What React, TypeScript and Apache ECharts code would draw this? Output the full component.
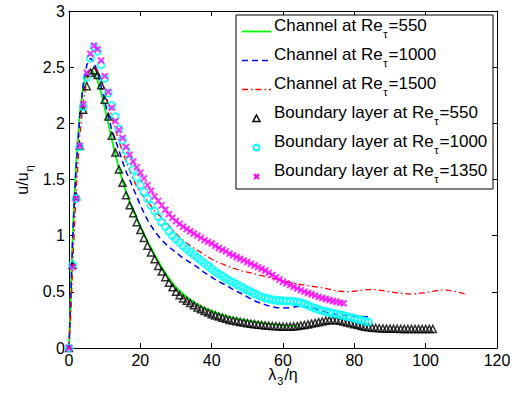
import React, { useEffect, useRef } from "react";
import * as echarts from "echarts";

// ---------- data ----------
// shared lambda_3/eta sampling grid of the boundary-layer profiles
const lambdaGrid = [
  0, 1, 2, 3, 4, 5, 6, 7, 8, 9, 10, 11, 12, 13, 14, 15, 16, 17, 18, 19, 20,
  21, 22, 23, 24, 25, 26, 27, 28, 29, 30, 31, 32, 33, 34, 35, 36, 37, 38, 39, 40,
  41, 42, 43, 44, 45, 46, 47, 48, 49, 50, 51, 52, 53, 54, 55, 56, 57, 58, 59, 60,
  61, 62, 63, 64, 65, 66, 67, 68, 69, 70, 71, 72, 73, 74, 75, 76, 77, 78, 79, 80,
  81, 82, 83, 84, 85, 86, 87, 88, 89, 90, 91, 92, 93, 94, 95, 96, 97, 98, 99, 100,
  101, 102,
];

// Boundary layer at Re_tau = 550 (black triangles)
const bl550 = [
  0, 0.74, 1.35, 1.8, 2.12, 2.33, 2.45, 2.47, 2.43, 2.34, 2.21,
  2.06, 1.89, 1.74, 1.59, 1.47, 1.36, 1.27, 1.2, 1.12, 1.05,
  0.98, 0.91, 0.85, 0.79, 0.73, 0.68, 0.63, 0.58, 0.54, 0.5,
  0.47, 0.44, 0.42, 0.4, 0.38, 0.36, 0.345, 0.33, 0.315, 0.3,
  0.29, 0.28, 0.27, 0.26, 0.25, 0.244, 0.238, 0.232, 0.226, 0.22,
  0.216, 0.212, 0.208, 0.204, 0.2, 0.198, 0.196, 0.194, 0.192, 0.19,
  0.19, 0.19, 0.192, 0.195, 0.2, 0.205, 0.21, 0.217, 0.223, 0.23,
  0.237, 0.243, 0.248, 0.25, 0.248, 0.243, 0.236, 0.228, 0.22, 0.212,
  0.204, 0.196, 0.19, 0.185, 0.181, 0.178, 0.176, 0.174, 0.173, 0.172,
  0.171, 0.171, 0.17, 0.17, 0.17, 0.17, 0.17, 0.17, 0.17, 0.17,
  0.17, 0.17,
];

// Boundary layer at Re_tau = 1000 (cyan circles)
const bl1000 = [
  0, 0.74, 1.33, 1.79, 2.15, 2.41, 2.58, 2.68, 2.64, 2.52, 2.4,
  2.27, 2.16, 2.06, 1.95, 1.85, 1.76, 1.67, 1.59, 1.52, 1.45,
  1.39, 1.33, 1.27, 1.22, 1.17, 1.12, 1.08, 1.04, 1.0, 0.97,
  0.94, 0.91, 0.88, 0.855, 0.83, 0.805, 0.78, 0.755, 0.73, 0.705,
  0.68, 0.66, 0.64, 0.62, 0.6, 0.585, 0.567, 0.55, 0.533, 0.515,
  0.5, 0.485, 0.47, 0.456, 0.445, 0.437, 0.43, 0.425, 0.422, 0.42,
  0.419, 0.418, 0.415, 0.41, 0.403, 0.393, 0.38, 0.367, 0.354, 0.342,
  0.332, 0.324, 0.317, 0.31, 0.303, 0.296, 0.289, 0.28, 0.272, 0.264,
  0.256, 0.248, 0.24, 0.232,
];

// Boundary layer at Re_tau = 1350 (magenta crosses)
const bl1350 = [
  0, 0.72, 1.33, 1.8, 2.17, 2.45, 2.62, 2.69, 2.66, 2.56, 2.42,
  2.28, 2.14, 2.02, 1.94, 1.87, 1.79, 1.72, 1.66, 1.61, 1.56,
  1.51, 1.45, 1.4, 1.35, 1.31, 1.27, 1.23, 1.19, 1.16, 1.13,
  1.105, 1.08, 1.06, 1.04, 1.02, 1.0, 0.98, 0.96, 0.945, 0.93,
  0.91, 0.89, 0.875, 0.86, 0.84, 0.825, 0.81, 0.795, 0.78, 0.765,
  0.75, 0.735, 0.72, 0.705, 0.69, 0.67, 0.65, 0.63, 0.61, 0.59,
  0.575, 0.56, 0.545, 0.53, 0.515, 0.502, 0.49, 0.478, 0.466, 0.455,
  0.445, 0.436, 0.427, 0.419, 0.411, 0.404, 0.398,
];

// Channel at Re_tau = 550 (green solid)
const ch550X = [
  0, 0.5, 1, 1.5, 2, 3, 4, 5, 6, 7, 8, 9, 10, 11, 12, 13, 14, 15, 16, 17, 18,
  19, 20, 22, 24, 26, 28, 30, 32, 34, 36, 38, 40, 42, 44, 46, 48, 50, 52, 54,
  56, 58, 60, 62, 64,
];
const ch550Y = [
  0, 0.5, 0.95, 1.35, 1.65, 2.08, 2.33, 2.45, 2.48, 2.45, 2.38, 2.27, 2.14,
  2.0, 1.86, 1.72, 1.6, 1.49, 1.39, 1.3, 1.22, 1.15, 1.08, 0.95, 0.83, 0.72,
  0.62, 0.54, 0.48, 0.43, 0.39, 0.355, 0.33, 0.305, 0.285, 0.27, 0.255, 0.245,
  0.235, 0.225, 0.215, 0.208, 0.2, 0.196, 0.194,
];

// Channel at Re_tau = 1000 (blue dashed)
const ch1000X = [
  0, 0.5, 1, 1.5, 2, 3, 4, 5, 6, 7, 8, 9, 10, 11, 12, 13, 14, 15, 16, 17, 18,
  19, 20, 22, 24, 26, 28, 30, 32, 34, 36, 38, 40, 42, 44, 46, 48, 50, 52, 54,
  56, 58, 60, 62, 64, 66, 68, 70, 72, 74, 76, 78, 80, 82, 84,
];
const ch1000Y = [
  0, 0.45, 0.95, 1.3, 1.6, 2.05, 2.35, 2.52, 2.58, 2.55, 2.45, 2.33, 2.2,
  2.07, 1.94, 1.85, 1.76, 1.66, 1.57, 1.5, 1.42, 1.35, 1.27, 1.14, 1.04, 0.96,
  0.9, 0.85, 0.8, 0.76, 0.72, 0.67, 0.63, 0.59, 0.56, 0.52, 0.49, 0.455, 0.42,
  0.395, 0.375, 0.36, 0.355, 0.36, 0.37, 0.37, 0.36, 0.34, 0.32, 0.305, 0.295,
  0.288, 0.283, 0.28, 0.278,
];

// Channel at Re_tau = 1500 (red dash-dot)
const ch1500X = [
  0, 0.5, 1, 1.5, 2, 3, 4, 5, 6, 7, 8, 9, 10, 11, 12, 13, 14, 15, 16, 17, 18,
  19, 20, 22, 24, 26, 28, 30, 32, 34, 36, 38, 40, 42, 44, 46, 48, 50, 52, 54,
  56, 58, 60, 62, 64, 66, 68, 70, 72, 74, 76, 78, 80, 82, 84, 86, 88, 90, 92,
  94, 96, 98, 100, 102, 104, 106, 108, 110, 111.5,
];
const ch1500Y = [
  0, 0.3, 0.7, 1.05, 1.4, 1.88, 2.2, 2.38, 2.47, 2.5, 2.47, 2.4, 2.3, 2.18,
  2.06, 1.95, 1.84, 1.75, 1.66, 1.58, 1.5, 1.44, 1.38, 1.31, 1.22, 1.16, 1.09,
  1.02, 0.96, 0.91, 0.87, 0.83, 0.79, 0.76, 0.735, 0.71, 0.69, 0.675, 0.66,
  0.645, 0.63, 0.615, 0.6, 0.585, 0.57, 0.56, 0.55, 0.54, 0.53, 0.515, 0.505,
  0.5, 0.505, 0.515, 0.52, 0.52, 0.51, 0.5, 0.49, 0.485, 0.48, 0.485, 0.495,
  0.505, 0.515, 0.515, 0.505, 0.49, 0.475,
];

const seriesNames = [
  "Channel at Reτ=550",
  "Channel at Reτ=1000",
  "Channel at Reτ=1500",
  "Boundary layer at Reτ=550",
  "Boundary layer at Reτ=1000",
  "Boundary layer at Reτ=1350",
];

const FONT_FAMILY = "'Liberation Sans', Arial, Helvetica, sans-serif";

const pair = (xs: number[], ys: number[]) => ys.map((y, i) => [xs[i], y]);

function textWidth(text: string, font: string) {
  const ctx = document.createElement("canvas").getContext("2d");
  if (!ctx) return text.length * 8;
  ctx.font = font;
  return ctx.measureText(text).width;
}

// legend drawn as graphics (box, samples and subscripted labels)
function buildLegend() {
  const boxX = 236, boxY = 15, boxW = 257, boxH = 174;
  const sampleX0 = 242, sampleX1 = 271, textX = 274;
  const firstBase = 31.5, rowStep = 29;
  const mainFont = `17px ${FONT_FAMILY}`;
  const subFont = `11px ${FONT_FAMILY}`;
  const els: any[] = [
    {
      type: "rect",
      shape: { x: boxX, y: boxY, width: boxW, height: boxH },
      style: { fill: "#fff", stroke: "#000", lineWidth: 1 },
      z: 100,
    },
  ];
  const samples = [
    { kind: "line", stroke: "#00ff00", lineDash: null, width: 1.8 },
    { kind: "line", stroke: "#0000ff", lineDash: [6, 4], width: 1.5 },
    { kind: "line", stroke: "#ff0000", lineDash: [6, 3, 1.5, 3], width: 1.3 },
    { kind: "triangle", stroke: "#000" },
    { kind: "circle", stroke: "#00ffff" },
    { kind: "cross", stroke: "#ff00ff" },
  ];
  seriesNames.forEach((name, i) => {
    const base = firstBase + rowStep * i;
    const s = samples[i];
    const cx = (sampleX0 + sampleX1) / 2;
    if (s.kind === "line") {
      els.push({
        type: "line",
        shape: { x1: sampleX0, y1: base, x2: sampleX1, y2: base },
        style: { stroke: s.stroke, lineWidth: s.width, lineDash: s.lineDash || undefined },
        z: 101,
      });
    } else if (s.kind === "triangle") {
      els.push({
        type: "polygon",
        shape: { points: [[cx, base - 3.5], [cx + 3.5, base + 3], [cx - 3.5, base + 3]] },
        style: { fill: "none", stroke: s.stroke, lineWidth: 1.5 },
        z: 101,
      });
    } else if (s.kind === "circle") {
      els.push({
        type: "circle",
        shape: { cx, cy: base, r: 3 },
        style: { fill: "none", stroke: s.stroke, lineWidth: 2 },
        z: 101,
      });
    } else {
      els.push({
        type: "line",
        shape: { x1: cx - 2.5, y1: base - 2.5, x2: cx + 2.5, y2: base + 2.5 },
        style: { stroke: s.stroke, lineWidth: 2 },
        z: 101,
      });
      els.push({
        type: "line",
        shape: { x1: cx - 2.5, y1: base + 2.5, x2: cx + 2.5, y2: base - 2.5 },
        style: { stroke: s.stroke, lineWidth: 2 },
        z: 101,
      });
    }
    const [pre, post] = name.split("τ");
    const wPre = textWidth(pre, mainFont);
    const wSub = textWidth("τ", subFont);
    els.push({
      type: "text",
      x: textX,
      y: base - 6,
      style: { text: pre, font: mainFont, fill: "#000", align: "left", verticalAlign: "middle" },
      z: 101,
    });
    els.push({
      type: "text",
      x: textX + wPre + 0.5,
      y: base + 2.6,
      style: { text: "τ", font: subFont, fill: "#000", align: "left", verticalAlign: "middle" },
      z: 101,
    });
    els.push({
      type: "text",
      x: textX + wPre + wSub + 1.5,
      y: base - 6,
      style: { text: post, font: mainFont, fill: "#000", align: "left", verticalAlign: "middle" },
      z: 101,
    });
  });
  return els;
}

export default function App() {
  const ref = useRef<HTMLDivElement>(null);

  useEffect(() => {
    if (!ref.current) return;
    const chart = echarts.init(ref.current, undefined, { renderer: "svg" });

    const tickStyle = { show: true, inside: true, length: 5, lineStyle: { color: "#000", width: 1 } };
    const lineAx = { show: true, onZero: false, lineStyle: { color: "#000", width: 1 } };
    const subRich = {
      sub: { fontSize: 11, lineHeight: 11, verticalAlign: "bottom", fontFamily: FONT_FAMILY, color: "#000", padding: [0, 1, 0, 1] },
    };

    chart.setOption({
      animation: false,
      backgroundColor: "#fff",
      grid: { left: 69, right: 22, top: 11, bottom: 46, containLabel: false, outerBoundsMode: "none" },
      xAxis: [
        {
          type: "value",
          min: 0,
          max: 120,
          interval: 20,
          position: "bottom",
          axisLine: lineAx,
          axisTick: tickStyle,
          splitLine: { show: false },
          axisLabel: { margin: 4, fontSize: 16, fontFamily: FONT_FAMILY, color: "#000" },
          name: "λ{sub|3}/η",
          nameLocation: "middle",
          nameGap: 14,
          nameMoveOverlap: false,
          nameTextStyle: { fontSize: 16, fontFamily: FONT_FAMILY, color: "#000", lineHeight: 24, rich: subRich },
        },
        {
          type: "value",
          min: 0,
          max: 120,
          interval: 20,
          position: "top",
          axisLine: lineAx,
          axisTick: tickStyle,
          splitLine: { show: false },
          axisLabel: { show: false },
        },
      ],
      yAxis: [
        {
          type: "value",
          min: 0,
          max: 3,
          interval: 0.5,
          position: "left",
          axisLine: lineAx,
          axisTick: tickStyle,
          splitLine: { show: false },
          axisLabel: { margin: 4, fontSize: 16, fontFamily: FONT_FAMILY, color: "#000" },
          name: "u/u{sub|η}",
          nameLocation: "middle",
          nameGap: 35,
          nameMoveOverlap: false,
          nameTextStyle: { fontSize: 16, fontFamily: FONT_FAMILY, color: "#000", lineHeight: 24, rich: subRich },
        },
        {
          type: "value",
          min: 0,
          max: 3,
          interval: 0.5,
          position: "right",
          axisLine: lineAx,
          axisTick: tickStyle,
          splitLine: { show: false },
          axisLabel: { show: false },
        },
      ],
      graphic: buildLegend(),
      series: [
        {
          name: seriesNames[0],
          type: "line",
          data: pair(ch550X, ch550Y),
          symbol: "none",
          showSymbol: false,
          color: "#00ff00",
          lineStyle: { color: "#00ff00", width: 1.8, type: "solid" },
          z: 2,
        },
        {
          name: seriesNames[1],
          type: "line",
          data: pair(ch1000X, ch1000Y),
          symbol: "none",
          showSymbol: false,
          color: "#0000ff",
          lineStyle: { color: "#0000ff", width: 1.5, type: [6, 4] },
          z: 2,
        },
        {
          name: seriesNames[2],
          type: "line",
          data: pair(ch1500X, ch1500Y),
          symbol: "none",
          showSymbol: false,
          color: "#ff0000",
          lineStyle: { color: "#ff0000", width: 1.3, type: [6, 3, 1.5, 3] },
          z: 2,
        },
        {
          name: seriesNames[3],
          type: "scatter",
          data: pair(lambdaGrid, bl550),
          symbol: "triangle",
          symbolSize: 7,
          color: "#000",
          itemStyle: { color: "rgba(0,0,0,0)", borderColor: "#000", borderWidth: 1.5 },
          z: 3,
        },
        {
          name: seriesNames[4],
          type: "scatter",
          data: pair(lambdaGrid, bl1000),
          symbol: "circle",
          symbolSize: 7,
          color: "#00ffff",
          itemStyle: { color: "rgba(0,0,0,0)", borderColor: "#00ffff", borderWidth: 2 },
          z: 4,
        },
        {
          name: seriesNames[5],
          type: "scatter",
          data: pair(lambdaGrid, bl1350),
          symbol: "path://M0,0L10,10M10,0L0,10",
          symbolSize: 6,
          color: "#ff00ff",
          itemStyle: { color: "rgba(0,0,0,0)", borderColor: "#ff00ff", borderWidth: 2 },
          z: 5,
        },
      ],
    });

    return () => chart.dispose();
  }, []);

  return (
    <div
      ref={ref}
      style={{ position: "fixed", left: 0, top: 0, width: 519, height: 394, background: "#fff" }}
    />
  );
}
